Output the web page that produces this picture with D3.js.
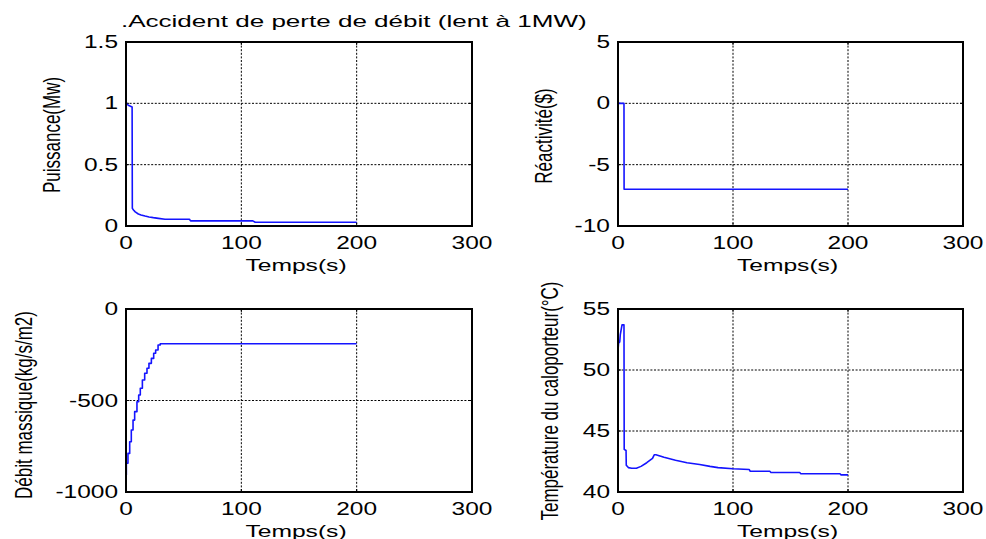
<!DOCTYPE html>
<html>
<head>
<meta charset="utf-8">
<script src="https://cdn.jsdelivr.net/npm/d3@7/dist/d3.min.js"></script>
<style>
  html, body { margin: 0; padding: 0; background: #fff; }
  svg { display: block; }
  text { font-family: "Liberation Sans", Arial, Helvetica, sans-serif; fill: #000; }
</style>
</head>
<body>
<svg id="chart" width="986" height="539"></svg>
<script>
// ---- data ----
const titleText = ".Accident de perte de débit (lent à 1MW)";
const xLabel = "Temps(s)";

const timeTicks = [0, 100, 200, 300];

// Puissance (MW)
const powerTicks = [0, 0.5, 1, 1.5];
const powerT = [0, 2, 5.3, 5.5, 6.5, 8, 10.7, 13, 16.5, 20, 23.7, 28, 33.8, 55, 56, 110, 112, 200];
const powerV = [1.0, 0.985, 0.97, 0.144, 0.13, 0.115, 0.098, 0.09, 0.081, 0.074, 0.068, 0.062, 0.055, 0.055, 0.042, 0.042, 0.031, 0.031];

// Réactivité ($)
const reactTicks = [-10, -5, 0, 5];
const reactT = [0, 5.2, 5.3, 200];
const reactV = [0, 0, -7, -7];

// Débit massique (kg/s/m2), stepped
const debitTicks = [-1000, -500, 0];
const debitT = [0, 0.3, 1.7, 3.2, 4.6, 6.1, 7.5, 9.5, 11, 12.4, 14.2, 16.2, 18.2, 19.9, 22, 24, 25.7, 27.8, 29.7, 200];
const debitV = [-907, -843, -789, -725, -661, -607, -561, -507, -470, -433, -388, -351, -324, -297, -270, -242, -224, -197, -190, -190];

// Température du caloporteur (°C)
const tempTicks = [40, 45, 50, 55];
const tempT = [0, 0.5, 1.5, 2, 3.5, 5.2, 5.4, 7, 7.2, 9, 12, 16, 20, 25, 30, 31.5, 33, 40, 50, 60, 71, 80, 87, 100, 114, 115, 132, 133, 158, 159, 193, 194, 200];
const tempV = [51.6, 52.2, 52.3, 52.9, 53.7, 53.7, 43.5, 43.4, 42.2, 42.0, 41.95, 41.95, 42.1, 42.4, 42.75, 43.05, 43.05, 42.85, 42.6, 42.4, 42.25, 42.1, 42.0, 41.9, 41.85, 41.7, 41.7, 41.6, 41.6, 41.5, 41.5, 41.4, 41.4];

// ---- layout ----
const TICK_FS = 17.5;
const LABEL_FS = 17;
const SX_TICK = 1.4;     // horizontal stretch of the rendered glyphs
const SX_LABEL = 1.45;

const panels = [
  { box: [126, 42, 472, 226], yDomain: [0, 1.5], yTicks: powerTicks, t: powerT, v: powerV,
    label: "Puissance(Mw)", labelX: 60, labelY: 135, curve: d3.curveLinear },
  { box: [618, 42, 963, 226], yDomain: [-10, 5], yTicks: reactTicks, t: reactT, v: reactV,
    label: "Réactivité($)", labelX: 552, labelY: 136, curve: d3.curveLinear },
  { box: [126, 309, 472, 492], yDomain: [-1000, 0], yTicks: debitTicks, t: debitT, v: debitV,
    label: "Débit massique(kg/s/m2)", labelX: 32, labelY: 405, curve: d3.curveStepAfter },
  { box: [618, 309, 963, 492], yDomain: [40, 55], yTicks: tempTicks, t: tempT, v: tempV,
    label: "Température du caloporteur(°C)", labelX: 558, labelY: 401, curve: d3.curveLinear }
];

// plain hyphen for negative numbers
const fmt = v => String(v);

const svg = d3.select("#chart");
svg.append("rect").attr("width", 986).attr("height", 539).attr("fill", "#fff");

function stretchedText(parent, x, y, sx, fs, str, anchor, rotate) {
  const g = parent.append("g")
    .attr("transform", `translate(${x},${y}) scale(${sx},1)` + (rotate ? " rotate(-90)" : ""));
  return g.append("text")
    .attr("text-anchor", anchor)
    .attr("font-size", fs)
    .text(str);
}

panels.forEach(p => {
  const [x0, y0, x1, y1] = p.box;
  const x = d3.scaleLinear().domain([0, 300]).range([x0, x1]);
  const y = d3.scaleLinear().domain(p.yDomain).range([y1, y0]);
  const g = svg.append("g");

  // dotted grid
  const grid = g.append("g").attr("stroke", "#000").attr("stroke-width", 1)
    .attr("stroke-dasharray", "2,1.6");
  timeTicks.filter(t => t > 0 && t < 300).forEach(t => {
    grid.append("line").attr("x1", x(t)).attr("x2", x(t)).attr("y1", y0).attr("y2", y1);
  });
  p.yTicks.filter(v => v > p.yDomain[0] && v < p.yDomain[1]).forEach(v => {
    grid.append("line").attr("x1", x0).attr("x2", x1).attr("y1", y(v)).attr("y2", y(v));
  });

  // inward tick marks on all four sides
  const tk = g.append("g").attr("stroke", "#000").attr("stroke-width", 1);
  timeTicks.forEach(t => {
    tk.append("line").attr("x1", x(t)).attr("x2", x(t)).attr("y1", y1).attr("y2", y1 - 3);
    tk.append("line").attr("x1", x(t)).attr("x2", x(t)).attr("y1", y0).attr("y2", y0 + 3);
  });
  p.yTicks.forEach(v => {
    tk.append("line").attr("x1", x0).attr("x2", x0 + 3).attr("y1", y(v)).attr("y2", y(v));
    tk.append("line").attr("x1", x1).attr("x2", x1 - 3).attr("y1", y(v)).attr("y2", y(v));
  });

  // data line
  const line = d3.line().x(d => x(d[0])).y(d => y(d[1])).curve(p.curve);
  g.append("path")
    .datum(p.t.map((t, i) => [t, p.v[i]]))
    .attr("fill", "none")
    .attr("stroke", "#1414ff")
    .attr("stroke-width", 1.6)
    .attr("stroke-linejoin", "round")
    .attr("d", line);

  // axes box
  g.append("rect").attr("x", x0).attr("y", y0).attr("width", x1 - x0).attr("height", y1 - y0)
    .attr("fill", "none").attr("stroke", "#000").attr("stroke-width", 2);

  // tick labels
  timeTicks.forEach(t => {
    stretchedText(g, x(t), y1 + 23, SX_TICK, TICK_FS, fmt(t), "middle");
  });
  p.yTicks.forEach(v => {
    stretchedText(g, x0 - 8, y(v) + 6, SX_TICK, TICK_FS, fmt(v), "end");
  });

  // axis labels
  stretchedText(g, (x0 + x1) / 2 - 3, y1 + 45, SX_LABEL, LABEL_FS, xLabel, "middle");
  stretchedText(g, p.labelX, p.labelY, SX_LABEL, LABEL_FS, p.label, "middle", true);
});

// title, stretched to span its line
const titleNode = stretchedText(svg, 121, 27, 1, LABEL_FS, titleText, "start");
const natural = titleNode.node().getComputedTextLength();
titleNode.node().parentNode.setAttribute("transform", `translate(121,27) scale(${466 / natural},1)`);
</script>
</body>
</html>
